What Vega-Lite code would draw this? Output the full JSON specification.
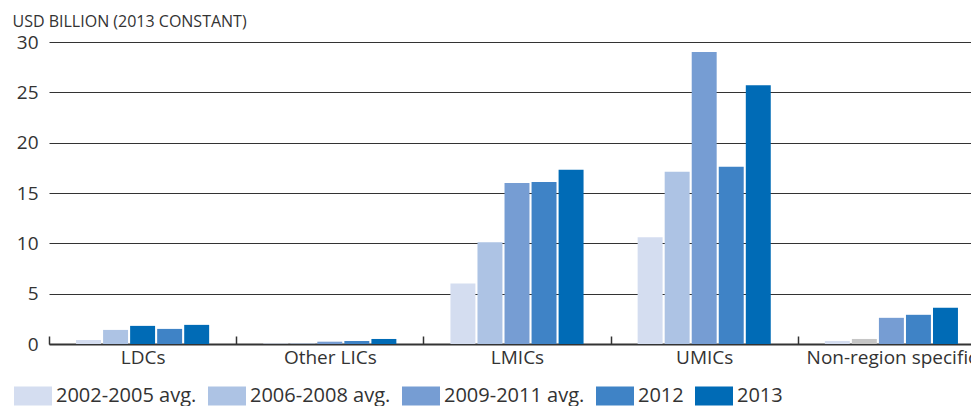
{
  "$schema": "https://vega.github.io/schema/vega-lite/v6.json",
  "autosize": "none",
  "padding": {"left": 49, "top": 42, "right": 0, "bottom": 62},
  "width": 936,
  "height": 302,
  "config": {
    "font": "Open Sans",
    "view": {"stroke": null},
    "axis": {"labelColor": "#333333", "titleColor": "#333333"}
  },
  "data": {
    "values": [
      {"region": "LDCs", "series": "2002-2005 avg.", "value": 0.4},
      {"region": "LDCs", "series": "2006-2008 avg.", "value": 1.4},
      {"region": "LDCs", "series": "2009-2011 avg.", "value": 1.8},
      {"region": "LDCs", "series": "2012", "value": 1.5},
      {"region": "LDCs", "series": "2013", "value": 1.9},
      {"region": "Other LICs", "series": "2002-2005 avg.", "value": 0.05},
      {"region": "Other LICs", "series": "2006-2008 avg.", "value": 0.05},
      {"region": "Other LICs", "series": "2009-2011 avg.", "value": 0.23},
      {"region": "Other LICs", "series": "2012", "value": 0.3},
      {"region": "Other LICs", "series": "2013", "value": 0.5},
      {"region": "LMICs", "series": "2002-2005 avg.", "value": 6.0},
      {"region": "LMICs", "series": "2006-2008 avg.", "value": 10.1},
      {"region": "LMICs", "series": "2009-2011 avg.", "value": 16.0},
      {"region": "LMICs", "series": "2012", "value": 16.1},
      {"region": "LMICs", "series": "2013", "value": 17.3},
      {"region": "UMICs", "series": "2002-2005 avg.", "value": 10.6},
      {"region": "UMICs", "series": "2006-2008 avg.", "value": 17.1},
      {"region": "UMICs", "series": "2009-2011 avg.", "value": 29.0},
      {"region": "UMICs", "series": "2012", "value": 17.6},
      {"region": "UMICs", "series": "2013", "value": 25.7},
      {"region": "Non-region specific", "series": "2002-2005 avg.", "value": 0.3},
      {"region": "Non-region specific", "series": "2006-2008 avg.", "value": 0.5},
      {"region": "Non-region specific", "series": "2009-2011 avg.", "value": 2.6},
      {"region": "Non-region specific", "series": "2012", "value": 2.9},
      {"region": "Non-region specific", "series": "2013", "value": 3.6}
    ]
  },
  "mark": {"type": "bar"},
  "encoding": {
    "x": {
      "field": "region",
      "type": "nominal",
      "sort": null,
      "scale": {"paddingInner": 0, "paddingOuter": 0},
      "axis": {
        "title": null,
        "labelAngle": 0,
        "labelFontSize": 19,
        "labelColor": "#333333",
        "labelPadding": 12,
        "tickBand": "extent",
        "tickSize": -8,
        "tickColor": "#333333",
        "tickWidth": 1.5,
        "domainColor": "#333333",
        "domainWidth": 2,
        "labelBaseline": "top"
      }
    },
    "xOffset": {
      "field": "series",
      "type": "nominal",
      "sort": null,
      "scale": {"paddingInner": 0.077, "paddingOuter": 1.8}
    },
    "y": {
      "field": "value",
      "type": "quantitative",
      "scale": {"domain": [0, 30], "nice": false},
      "axis": {
        "values": [0, 5, 10, 15, 20, 25, 30],
        "title": "USD BILLION (2013 CONSTANT)",
        "titleAngle": 0,
        "titleAlign": "left",
        "titleBaseline": "alphabetic",
        "titleX": -37,
        "titleY": -16,
        "titleFontSize": 16,
        "titleFontWeight": "normal",
        "labelFontSize": 19,
        "labelPadding": 11,
        "ticks": false,
        "domain": false,
        "grid": true,
        "gridColor": "#333333",
        "gridWidth": 1
      }
    },
    "color": {
      "condition": [
        {"test": "datum.region === 'LDCs' && datum.series === '2009-2011 avg.'", "value": "#006bb6"},
        {"test": "datum.region === 'Non-region specific' && datum.series === '2006-2008 avg.'", "value": "#c6c6c6"}
      ],
      "field": "series",
      "type": "nominal",
      "sort": null,
      "scale": {
        "domain": ["2002-2005 avg.", "2006-2008 avg.", "2009-2011 avg.", "2012", "2013"],
        "range": ["#d4ddf0", "#adc3e4", "#769dd3", "#3f83c6", "#006bb6"]
      },
      "legend": {
        "title": null,
        "orient": "none",
        "direction": "horizontal",
        "legendX": -35,
        "legendY": 335,
        "symbolType": "M-1,-0.5H1V0.5H-1Z",
        "symbolSize": 1444,
        "symbolStrokeWidth": 0,
        "labelFontSize": 20,
        "labelColor": "#333333",
        "labelOffset": 4,
        "columnPadding": 11
      }
    }
  }
}
